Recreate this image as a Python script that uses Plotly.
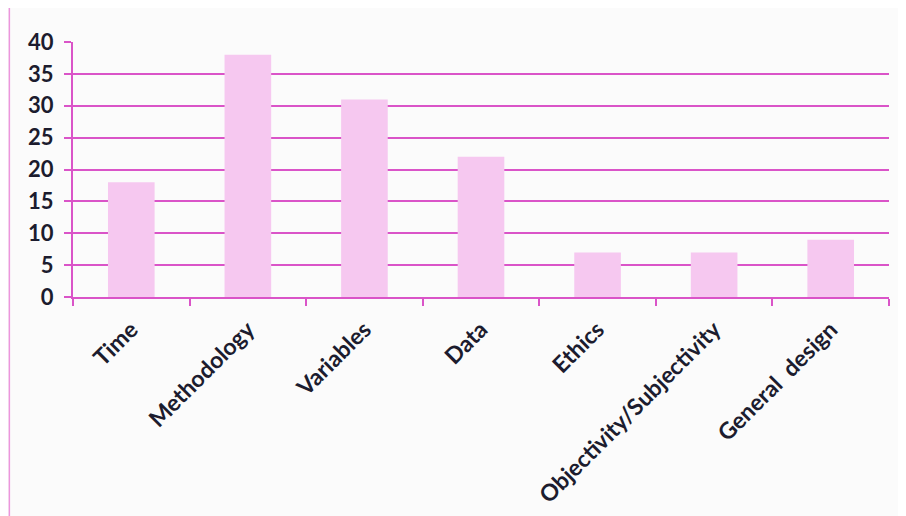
import plotly.graph_objects as go

categories = ['Time', 'Methodology', 'Variables', 'Data', 'Ethics',
              'Objectivity/Subjectivity', 'General  design']
values = [18, 38, 31, 22, 7, 7, 9]
y_ticks = [0, 5, 10, 15, 20, 25, 30, 35, 40]

pink_line = 'rgb(218, 84, 200)'
bar_fill = 'rgb(246, 200, 240)'
ink = '#1c1c2e'

fig = go.Figure()
fig.add_trace(go.Bar(x=categories, y=values, marker_color=bar_fill,
                     marker_line_width=0))

fig.update_layout(
    width=906, height=516,
    margin=dict(l=65, r=25, t=34, b=227),
    paper_bgcolor='#fbfbfb', plot_bgcolor='#fbfbfb',
    bargap=0.6, showlegend=False,
    font=dict(family='Lato', color=ink),
)

fig.update_yaxes(range=[0, 40], tickvals=y_ticks, showgrid=True,
                 gridcolor=pink_line, gridwidth=2, zeroline=False,
                 showline=True, linecolor=pink_line, linewidth=2,
                 ticks='outside', ticklen=7, tickcolor=pink_line, tickwidth=2,
                 ticklabelstandoff=6,
                 tickfont=dict(size=22, family='Lato', weight='bold', color=ink))

fig.update_xaxes(showline=True, linecolor=pink_line, linewidth=2,
                 tickson='boundaries', ticks='outside', ticklen=7,
                 tickcolor=pink_line, tickwidth=2, tickangle=-45,
                 ticklabelstandoff=8,
                 tickfont=dict(size=23, family='Lato', weight='bold', color=ink))

# faint page border on the left of the scan
fig.add_shape(type='line', xref='paper', yref='paper',
              x0=-0.078, x1=-0.078, y0=-1.0, y1=1.2,
              line=dict(color='rgb(236, 150, 220)', width=1.5))

fig.write_html("out.html")
